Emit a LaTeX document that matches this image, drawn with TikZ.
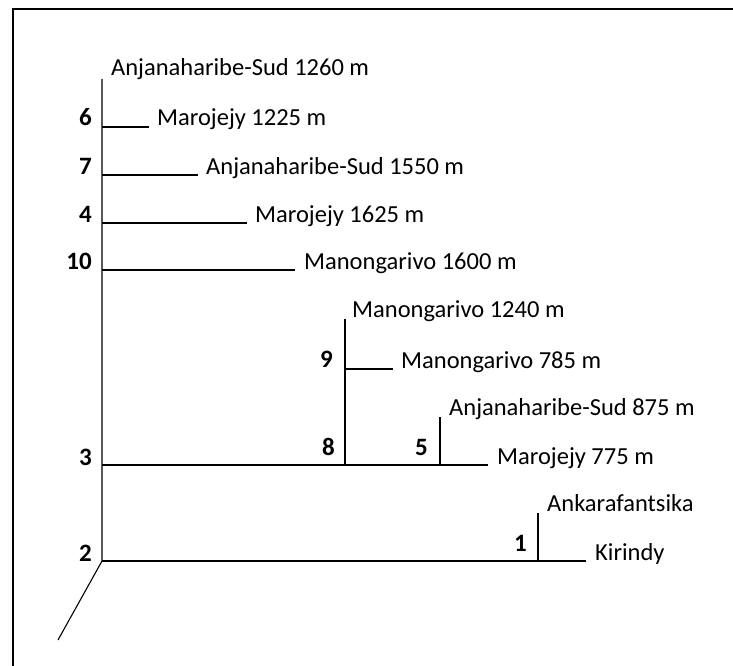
\documentclass[tikz,border=0pt]{standalone}
\usepackage{fontspec}
\setmainfont{Carlito}
\usetikzlibrary{positioning}

\begin{document}
\begin{tikzpicture}[
        x=1pt, y=-1pt,
        frame/.style = {line width=1.8pt},
        branch/.style = {line width=1.1pt},
        taxon/.style = {anchor=base west, inner sep=0pt, font=\fontsize{24.5}{28}\selectfont},
        clade/.style = {anchor=base east, inner sep=0pt, font=\fontsize{25}{28}\selectfont\bfseries}
        ]

        \useasboundingbox (0,0) rectangle (733,666);
        \draw[frame] (13,666) -- (13,9) -- (733,9);

        % clade points on the trunk
        \coordinate (c2)  at (102,561);
        \coordinate (c3)  at (102,465);
        \coordinate (c10) at (102,270);
        \coordinate (c4)  at (102,223);
        \coordinate (c7)  at (102,175);
        \coordinate (c6)  at (102,127);
        \coordinate (top) at (102,79);
        \coordinate (stem) at (58,640);

        % inner clades
        \coordinate (c8)  at (345,465);
        \coordinate (c9)  at (345,369);
        \coordinate (c5)  at (440,465);
        \coordinate (c1)  at (538,561);

        % leaf ends
        \coordinate (e1225) at (149,127);
        \coordinate (e1550) at (198,175);
        \coordinate (e1625) at (247,223);
        \coordinate (e1600) at (295,270);
        \coordinate (e1240) at (345,319);
        \coordinate (e785)  at (393,369);
        \coordinate (e875)  at (440,417);
        \coordinate (e775)  at (488,465);
        \coordinate (eAnk)  at (538,513);
        \coordinate (eKir)  at (586,561);

        \draw[branch] (stem) -- (c2) -- (top);
        \draw[branch] (c2) -- (eKir);
        \draw[branch] (c1) -- (eAnk);
        \draw[branch] (c3) -- (e775);
        \draw[branch] (c8) -- (e1240);
        \draw[branch] (c9) -- (e785);
        \draw[branch] (c5) -- (e875);
        \draw[branch] (c10) -- (e1600);
        \draw[branch] (c4) -- (e1625);
        \draw[branch] (c7) -- (e1550);
        \draw[branch] (c6) -- (e1225);

        % site names
        \node (t1260) at ([shift={(9,-3)}]top)    [taxon] {Anjanaharibe-Sud 1260 m};
        \node (t1225) at ([shift={(8,-1)}]e1225)  [taxon] {Marojejy 1225 m};
        \node (t1550) at ([shift={(8,-1)}]e1550)  [taxon] {Anjanaharibe-Sud 1550 m};
        \node (t1625) at ([shift={(8,-1)}]e1625)  [taxon] {Marojejy 1625 m};
        \node (t1600) at ([shift={(9,-1)}]e1600)  [taxon] {Manongarivo 1600 m};
        \node (t1240) at ([shift={(7,-2)}]e1240)  [taxon] {Manongarivo 1240 m};
        \node (t785)  at ([shift={(8,-1)}]e785)   [taxon] {Manongarivo 785 m};
        \node (t875)  at ([shift={(9,-2)}]e875)   [taxon] {Anjanaharibe-Sud 875 m};
        \node (t775)  at ([shift={(9,-1)}]e775)   [taxon] {Marojejy 775 m};
        \node (tAnk)  at ([shift={(9,-2)}]eAnk)   [taxon] {Ankarafantsika};
        \node (tKir)  at ([shift={(9,-1)}]eKir)   [taxon] {Kirindy};

        % clade numbers
        \node (n6)  at ([shift={(-10,-1)}]c6)  [clade] {6};
        \node (n7)  at ([shift={(-10,-1)}]c7)  [clade] {7};
        \node (n4)  at ([shift={(-10,-1)}]c4)  [clade] {4};
        \node (n10) at ([shift={(-10,-1)}]c10) [clade] {10};
        \node (n3)  at ([shift={(-10,0)}]c3)   [clade] {3};
        \node (n2)  at ([shift={(-10,0)}]c2)   [clade] {2};
        \node (n9)  at ([shift={(-12,-2)}]c9)  [clade] {9};
        \node (n8)  at ([shift={(-10,-10)}]c8) [clade] {8};
        \node (n5)  at ([shift={(-12,-10)}]c5) [clade] {5};
        \node (n1)  at ([shift={(-11,-10)}]c1) [clade] {1};
    \end{tikzpicture}
\end{document}
